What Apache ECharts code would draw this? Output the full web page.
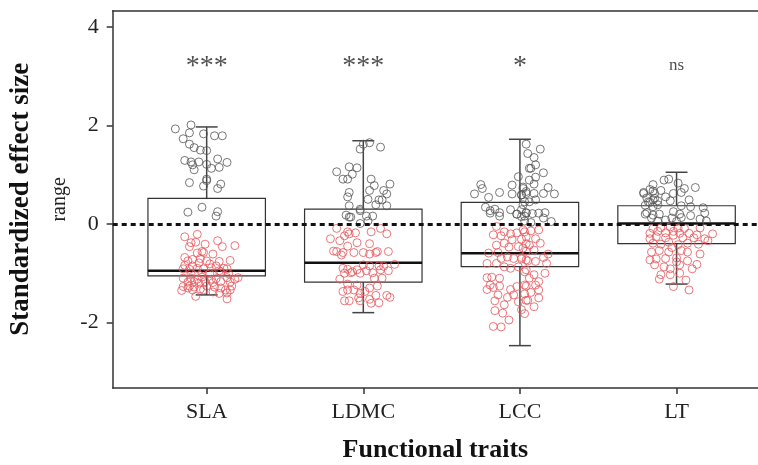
<!DOCTYPE html>
<html>
<head>
<meta charset="utf-8">
<script src="https://cdn.jsdelivr.net/npm/echarts@6/dist/echarts.min.js"></script>
<style>
    html, body { margin: 0; padding: 0; background: #fff; }
    #chart { width: 758px; height: 465px; }
</style>
</head>
<body>
<div id="chart"></div>
<script>
var traits = ['SLA', 'LDMC', 'LCC', 'LT'];
var sigLabels = ['***', '***', '*', 'ns'];
var yTicks = [-2, 0, 2, 4];

// box stats: [low whisker, q1, median, q3, high whisker]
var boxSLA = [-1.44, -1.055, -0.95, 0.52, 1.97];
var boxLDMC = [-1.80, -1.18, -0.785, 0.30, 1.69];
var boxLCC = [-2.47, -0.866, -0.595, 0.44, 1.72];
var boxLT = [-1.22, -0.40, 0.01, 0.37, 1.05];

// jittered observations: [offset from category, effect size]
var slaUp = [[-0.20,1.93],[-0.10,2.01],[-0.11,1.85],[-0.02,1.83],[0.05,1.79],[0.10,1.79],[-0.15,1.73],[-0.11,1.62],[-0.08,1.55],[-0.04,1.50],[0.00,1.49],[-0.14,1.29],[-0.10,1.26],[-0.05,1.26],[-0.09,1.20],[-0.08,1.10],[0.00,1.21],[0.03,1.13],[0.07,1.32],[0.08,1.15],[0.13,1.25],[-0.11,0.84],[0.00,0.91],[0.00,0.88],[-0.02,0.77],[0.09,0.81],[0.07,0.72],[-0.03,0.34],[-0.12,0.24],[0.07,0.25],[0.06,0.16]];
var slaDown = [[-0.06,-0.21],[-0.14,-0.26],[-0.10,-0.38],[-0.07,-0.37],[-0.11,-0.46],[-0.01,-0.41],[0.07,-0.34],[0.10,-0.46],[0.18,-0.44],[-0.03,-0.56],[-0.06,-0.59],[-0.02,-0.58],[0.04,-0.61],[-0.14,-0.68],[-0.09,-0.72],[-0.12,-0.75],[-0.04,-0.70],[0.00,-0.75],[0.08,-0.76],[0.15,-0.74],[-0.14,-0.84],[-0.09,-0.85],[-0.05,-0.79],[0.02,-0.81],[0.06,-0.85],[0.11,-0.90],[-0.15,-0.91],[-0.11,-0.92],[-0.06,-0.90],[-0.02,-0.91],[0.03,-0.89],[0.08,-0.95],[0.13,-0.91],[-0.10,-1.01],[-0.03,-1.00],[0.02,-1.01],[0.09,-0.97],[0.14,-1.01],[-0.15,-1.10],[-0.10,-1.10],[-0.06,-1.12],[-0.03,-1.08],[0.03,-1.12],[0.06,-1.11],[0.13,-1.09],[0.18,-1.12],[0.20,-1.09],[-0.12,-1.18],[-0.08,-1.17],[-0.01,-1.17],[0.04,-1.19],[0.09,-1.17],[0.15,-1.18],[-0.15,-1.27],[-0.12,-1.30],[-0.08,-1.28],[-0.04,-1.32],[0.00,-1.26],[0.05,-1.28],[0.09,-1.30],[0.12,-1.34],[0.15,-1.34],[-0.16,-1.35],[-0.09,-1.34],[-0.02,-1.34],[0.04,-1.38],[0.08,-1.41],[0.13,-1.40],[-0.07,-1.47],[0.13,-1.52],[-0.11,-1.26],[-0.05,-1.20],[0.16,-1.26]];

var ldmcUp = [[-0.02,1.52],[0.00,1.62],[0.04,1.65],[0.11,1.56],[-0.17,1.06],[-0.09,1.16],[-0.04,1.14],[-0.07,1.01],[-0.13,0.91],[-0.10,0.91],[0.05,0.91],[0.07,0.78],[0.04,0.68],[0.17,0.81],[0.13,0.68],[0.15,0.61],[-0.09,0.64],[-0.10,0.55],[0.03,0.50],[0.10,0.49],[0.12,0.49],[0.08,0.39],[0.15,0.37],[-0.09,0.37],[-0.02,0.30],[-0.11,0.18],[-0.09,0.14],[0.02,0.16],[0.06,0.16],[-0.08,0.14],[0.03,0.06],[-0.02,0.01],[-0.02,0.27]];
var ldmcDown = [[-0.17,-0.09],[-0.10,-0.16],[-0.05,-0.18],[-0.09,-0.20],[-0.12,-0.24],[0.05,-0.16],[0.11,-0.09],[0.15,-0.20],[-0.21,-0.30],[-0.15,-0.34],[-0.04,-0.38],[-0.10,-0.45],[0.04,-0.40],[-0.17,-0.56],[-0.13,-0.58],[-0.06,-0.58],[0.00,-0.58],[0.04,-0.61],[0.08,-0.58],[0.09,-0.56],[0.16,-0.56],[-0.14,-0.63],[0.00,-0.83],[0.04,-0.85],[0.10,-0.85],[0.20,-0.82],[0.13,-0.86],[-0.13,-0.90],[-0.10,-0.92],[-0.07,-0.97],[-0.04,-0.93],[-0.02,-1.00],[0.02,-0.95],[0.06,-0.99],[0.11,-0.93],[0.16,-0.95],[-0.12,-1.00],[-0.08,-0.99],[0.07,-1.10],[0.12,-1.10],[-0.15,-1.12],[-0.10,-1.22],[-0.04,-1.24],[0.04,-1.30],[0.09,-1.26],[-0.13,-1.37],[-0.10,-1.34],[-0.06,-1.34],[-0.02,-1.41],[0.04,-1.53],[0.08,-1.45],[0.15,-1.45],[0.17,-1.49],[-0.12,-1.56],[-0.09,-1.56],[-0.03,-1.50],[-0.02,-1.56],[0.10,-1.60],[0.05,-1.61],[0.01,-1.37],[-0.19,-0.55]];

var lccUp = [[0.04,1.62],[0.05,1.43],[0.06,1.13],[-0.01,0.96],[-0.25,0.80],[-0.24,0.72],[-0.29,0.61],[-0.20,0.54],[-0.13,0.64],[-0.05,0.79],[-0.05,0.61],[0.02,0.72],[0.01,0.59],[0.04,0.62],[0.03,0.45],[-0.22,0.34],[-0.19,0.27],[-0.16,0.30],[-0.13,0.23],[-0.06,0.29],[-0.02,0.20],[0.01,0.29],[0.04,0.23],[0.01,0.15],[-0.19,0.22],[-0.13,0.16],[-0.02,0.20],[0.03,0.16],[0.07,1.13],[0.15,1.04],[0.10,0.95],[0.06,0.89],[0.09,0.81],[0.18,0.74],[0.02,0.75],[0.04,0.66],[0.09,0.62],[0.22,0.61],[0.15,0.62],[0.01,0.59],[0.06,0.45],[0.10,0.49],[0.02,0.39],[0.04,0.22],[0.08,0.21],[0.12,0.22],[0.16,0.23],[0.15,0.12],[0.20,0.05],[0.03,0.06],[0.07,0.03],[0.13,1.52],[0.09,1.35],[0.10,1.20]];
var lccDown = [[-0.15,-0.05],[-0.10,-0.16],[-0.17,-0.22],[-0.12,-0.24],[-0.06,-0.20],[-0.02,-0.18],[0.03,-0.16],[-0.15,-0.43],[-0.10,-0.39],[-0.05,-0.32],[0.01,-0.31],[-0.07,-0.47],[-0.01,-0.46],[0.04,-0.40],[-0.20,-0.59],[-0.14,-0.58],[-0.12,-0.70],[-0.08,-0.67],[-0.04,-0.70],[0.01,-0.68],[0.04,-0.73],[-0.21,-0.80],[-0.15,-0.80],[-0.10,-0.87],[-0.06,-0.90],[-0.01,-0.87],[0.04,-0.93],[-0.21,-1.09],[-0.18,-1.08],[-0.13,-1.10],[-0.19,-1.24],[-0.21,-1.33],[-0.17,-1.29],[-0.13,-1.26],[-0.06,-1.33],[-0.02,-1.27],[0.04,-1.26],[-0.14,-1.44],[-0.08,-1.49],[-0.04,-1.44],[-0.16,-1.56],[-0.10,-1.64],[-0.01,-1.58],[0.04,-1.55],[-0.16,-1.76],[-0.11,-1.81],[-0.07,-1.95],[-0.17,-2.08],[-0.12,-2.09],[0.01,-1.74],[0.03,-1.42],[0.02,-0.12],[0.07,-0.14],[0.12,-0.12],[0.04,-0.26],[0.10,-0.30],[0.13,-0.39],[0.06,-0.43],[0.02,-0.49],[0.09,-0.53],[0.04,-0.55],[0.18,-0.61],[0.15,-0.68],[0.10,-0.76],[0.05,-0.75],[0.01,-0.71],[0.17,-0.80],[0.03,-0.97],[0.09,-1.03],[0.16,-1.00],[0.06,-1.10],[0.12,-1.17],[0.03,-1.24],[0.10,-1.24],[0.07,-1.39],[0.12,-1.34],[0.05,-1.55],[0.09,-1.68],[0.03,-1.82],[0.12,-1.50]];

var ltUp = [[-0.08,0.89],[-0.05,0.91],[0.01,0.83],[0.05,0.72],[0.12,0.74],[-0.15,0.80],[-0.21,0.64],[-0.15,0.67],[-0.10,0.68],[-0.02,0.62],[0.03,0.64],[-0.19,0.53],[-0.14,0.52],[-0.07,0.55],[-0.17,0.44],[-0.12,0.47],[-0.04,0.47],[0.08,0.49],[0.03,0.37],[-0.20,0.38],[-0.15,0.35],[0.09,0.35],[0.17,0.33],[-0.02,0.25],[-0.20,0.20],[-0.11,0.20],[0.02,0.20],[0.09,0.17],[0.18,0.22],[-0.16,0.12],[-0.07,0.08],[-0.03,0.12],[0.03,0.13],[0.15,0.10],[0.19,0.06],[0.00,0.05],[-0.12,0.06],[-0.21,0.62],[-0.17,0.70],[-0.14,0.62],[-0.18,0.45],[-0.15,0.49],[-0.12,0.39],[-0.19,0.23],[-0.15,0.18]];
var ltDown = [[-0.15,-0.09],[-0.10,-0.08],[-0.04,-0.06],[0.01,-0.08],[0.05,-0.09],[0.15,-0.08],[-0.17,-0.19],[-0.12,-0.15],[-0.07,-0.18],[-0.02,-0.15],[0.02,-0.19],[0.08,-0.19],[0.13,-0.22],[0.23,-0.20],[0.18,-0.30],[-0.17,-0.30],[-0.13,-0.26],[-0.07,-0.28],[-0.02,-0.23],[0.04,-0.28],[0.11,-0.28],[-0.15,-0.39],[-0.10,-0.41],[-0.05,-0.37],[0.01,-0.42],[0.07,-0.39],[0.14,-0.41],[0.20,-0.34],[-0.16,-0.57],[-0.11,-0.54],[-0.05,-0.57],[-0.03,-0.48],[0.07,-0.57],[0.15,-0.61],[0.03,-0.54],[-0.17,-0.73],[-0.13,-0.71],[-0.07,-0.70],[0.00,-0.69],[0.07,-0.75],[0.13,-0.82],[-0.14,-0.83],[-0.08,-0.87],[0.02,-0.83],[-0.04,-0.91],[0.10,-0.91],[-0.10,-1.03],[-0.04,-1.03],[0.02,-1.00],[-0.11,-1.12],[0.06,-1.14],[-0.02,-1.27],[0.08,-1.34],[0.00,-0.77]];

var boxes = [boxSLA, boxLDMC, boxLCC, boxLT];
var ups = [slaUp, ldmcUp, lccUp, ltUp];
var downs = [slaDown, ldmcDown, lccDown, ltDown];

function toPoints(groups) {
    var out = [];
    for (var i = 0; i < groups.length; i++) {
        for (var j = 0; j < groups[i].length; j++) {
            out.push([i + 1 + groups[i][j][0], groups[i][j][1]]);
        }
    }
    return out;
}

var boxData = [];
for (var i = 0; i < boxes.length; i++) {
    boxData.push([i + 1].concat(boxes[i]));
}

var sigData = [];
for (var k = 0; k < sigLabels.length; k++) {
    var isNs = sigLabels[k] === 'ns';
    sigData.push({
        value: [k + 1, isNs ? 3.22 : 3.2],
        label: {formatter: sigLabels[k], fontSize: isNs ? 17 : 28}
    });
}

function renderBox(params, api) {
    var x = api.value(0);
    var hw = 0.375, cw = 0.07;
    var lowP = api.coord([x, api.value(1)]);
    var q1L = api.coord([x - hw, api.value(2)]);
    var q3R = api.coord([x + hw, api.value(4)]);
    var medL = api.coord([x - hw, api.value(3)]);
    var medR = api.coord([x + hw, api.value(3)]);
    var highP = api.coord([x, api.value(5)]);
    var capL = api.coord([x - cw, 0])[0];
    var capR = api.coord([x + cw, 0])[0];
    var line = {stroke: '#444', lineWidth: 1.5};
    return {
        type: 'group',
        children: [
            {type: 'line', shape: {x1: lowP[0], y1: lowP[1], x2: lowP[0], y2: q1L[1]}, style: line},
            {type: 'line', shape: {x1: highP[0], y1: highP[1], x2: highP[0], y2: q3R[1]}, style: line},
            {type: 'line', shape: {x1: capL, y1: lowP[1], x2: capR, y2: lowP[1]}, style: line},
            {type: 'line', shape: {x1: capL, y1: highP[1], x2: capR, y2: highP[1]}, style: line},
            {type: 'rect', shape: {x: q1L[0], y: q3R[1], width: q3R[0] - q1L[0], height: q1L[1] - q3R[1]},
                style: {fill: 'none', stroke: '#333', lineWidth: 1.2}},
            {type: 'line', shape: {x1: medL[0], y1: medL[1], x2: medR[0], y2: medR[1]},
                style: {stroke: '#111', lineWidth: 2.5}}
        ]
    };
}

var serif = 'Liberation Serif';
var myChart = echarts.init(document.getElementById('chart'));
var option = {
    animation: false,
    grid: {left: 112.7, top: 10.7, right: 0, bottom: 77, outerBoundsMode: 'none'},
    xAxis: [{
        type: 'value',
        min: 0.4,
        max: 4.52,
        splitLine: {show: false},
        axisLine: {show: true, onZero: false, lineStyle: {color: '#333', width: 1.5}},
        axisTick: {show: true, length: 6, customValues: [1, 2, 3, 4], lineStyle: {color: '#333', width: 1.5}},
        axisLabel: {
            customValues: [1, 2, 3, 4],
            margin: 13,
            fontFamily: serif, fontSize: 22, color: '#222',
            formatter: function (v) { return traits[Math.round(v) - 1]; }
        },
        name: 'Functional traits',
        nameLocation: 'middle',
        nameGap: 49,
        nameTextStyle: {fontFamily: serif, fontSize: 26, fontWeight: 'bold', color: '#111'}
    }, {
        type: 'value',
        position: 'top',
        min: 0.4,
        max: 4.52,
        splitLine: {show: false},
        axisLine: {show: true, onZero: false, lineStyle: {color: '#333', width: 1.5}},
        axisTick: {show: false},
        axisLabel: {show: false}
    }],
    yAxis: {
        type: 'value',
        min: -3.33,
        max: 4.33,
        splitLine: {show: false},
        axisLine: {show: true, onZero: false, lineStyle: {color: '#333', width: 1.5}},
        axisTick: {show: true, length: 6, customValues: yTicks, lineStyle: {color: '#333', width: 1.5}},
        axisLabel: {customValues: yTicks, margin: 14, fontFamily: serif, fontSize: 22, color: '#222'},
        name: '{a|Standardized effect size}\n{b|range}',
        nameLocation: 'middle',
        nameGap: 29,
        nameTextStyle: {
            rich: {
                a: {fontFamily: serif, fontSize: 27, fontWeight: 'bold', color: '#111', lineHeight: 40},
                b: {fontFamily: serif, fontSize: 20, color: '#222', lineHeight: 36}
            }
        }
    },
    series: [
        {
            type: 'custom',
            name: 'box',
            renderItem: renderBox,
            encode: {x: 0, y: [1, 2, 3, 4, 5]},
            data: boxData,
            z: 1,
            silent: true
        },
        {
            type: 'scatter',
            name: 'above',
            symbol: 'circle',
            symbolSize: 8,
            itemStyle: {color: 'rgba(255,255,255,0)', borderColor: '#555', borderWidth: 1},
            data: toPoints(ups),
            z: 2
        },
        {
            type: 'scatter',
            name: 'below',
            symbol: 'circle',
            symbolSize: 8,
            itemStyle: {color: 'rgba(255,255,255,0)', borderColor: '#e6555a', borderWidth: 1},
            data: toPoints(downs),
            z: 2,
            markLine: {
                silent: true,
                symbol: 'none',
                label: {show: false},
                lineStyle: {color: '#111', width: 3, type: [5, 4]},
                data: [{yAxis: 0}],
                z: 5
            }
        },
        {
            type: 'scatter',
            name: 'sig',
            symbolSize: 0,
            silent: true,
            label: {show: true, position: 'inside', fontFamily: serif, color: '#222'},
            data: sigData,
            z: 6
        }
    ]
};
myChart.setOption(option);
</script>
</body>
</html>
